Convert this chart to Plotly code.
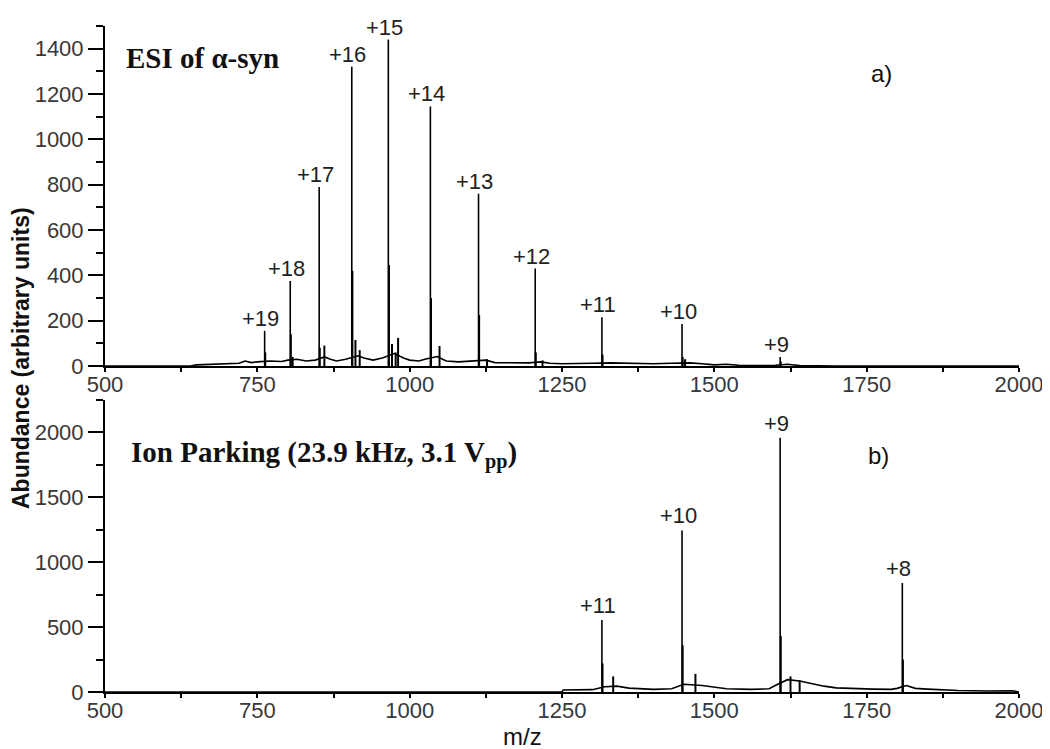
import plotly.graph_objects as go

# ---- data ----
# a) ESI of alpha-synuclein
top_peak_mz = [762, 804, 851.5, 905, 965, 1034, 1113, 1206, 1315.5, 1447, 1608]
top_peak_abund = [155, 375, 790, 1320, 1440, 1145, 760, 430, 215, 185, 40]
top_peak_charge = ["+19", "+18", "+17", "+16", "+15", "+14", "+13", "+12", "+11", "+10", "+9"]

top_minor_mz = [763, 805, 808, 852.5, 860, 906, 911, 918, 966, 971, 977, 981,
                1035, 1049, 1114, 1127, 1207, 1218, 1316.5, 1448, 1452, 1609]
top_minor_abund = [60, 140, 40, 80, 90, 420, 115, 70, 446, 97, 60, 124,
                   300, 88, 225, 30, 60, 25, 50, 40, 30, 20]

top_base_mz = [500, 640, 650, 680, 700, 720, 730, 740, 750, 770, 790, 800, 815, 830, 845,
               860, 870, 880, 895, 915, 925, 940, 955, 975, 990, 1000, 1015, 1025, 1045,
               1060, 1080, 1100, 1125, 1140, 1160, 1180, 1195, 1215, 1230, 1250, 1280,
               1300, 1330, 1360, 1400, 1430, 1460, 1480, 1500, 1520, 1540, 1560, 1600,
               1620, 1640, 1700, 2000]
top_base_abund = [0, 0, 5, 8, 10, 12, 22, 15, 18, 22, 20, 26, 30, 22, 26,
                  40, 30, 22, 30, 45, 35, 26, 35, 55, 35, 26, 22, 30, 42,
                  22, 18, 22, 26, 15, 14, 12, 14, 18, 12, 10, 10,
                  12, 14, 12, 10, 12, 14, 10, 5, 8, 3, 2, 3,
                  8, 2, 0, 0]

# b) Ion parking (23.9 kHz, 3.1 Vpp)
bot_peak_mz = [1315.5, 1447, 1608, 1808.5]
bot_peak_abund = [555, 1245, 1960, 840]
bot_peak_charge = ["+11", "+10", "+9", "+8"]

bot_minor_mz = [1316.5, 1334, 1448, 1469, 1609, 1625, 1640, 1809.5]
bot_minor_abund = [220, 120, 360, 140, 430, 120, 90, 250]

bot_base_mz = [500, 1250, 1252, 1280, 1300, 1320, 1340, 1360, 1400, 1430, 1450, 1480,
               1500, 1520, 1560, 1590, 1600, 1620, 1640, 1660, 1680, 1700, 1720, 1740,
               1760, 1790, 1800, 1815, 1830, 1850, 1870, 1900, 1950, 1990, 2000]
bot_base_abund = [0, 0, 15, 15, 18, 40, 45, 30, 20, 25, 60, 50,
                  35, 25, 20, 25, 50, 95, 85, 65, 45, 32, 28, 25,
                  22, 20, 28, 50, 28, 22, 18, 12, 8, 10, 0]

W, H = 1050, 749


def px(x):
    return x / W


def py(y):
    return 1 - y / H


def sticks(mz, ab):
    xs, ys = [], []
    for m, a in zip(mz, ab):
        xs += [m, m, None]
        ys += [0, a, None]
    return xs, ys


fig = go.Figure()
line = dict(color="black", width=1.6)

# top panel
fig.add_trace(go.Scatter(x=top_base_mz, y=top_base_abund, mode="lines", line=line,
                         xaxis="x", yaxis="y", hoverinfo="skip"))
xs, ys = sticks(top_minor_mz, top_minor_abund)
fig.add_trace(go.Scatter(x=xs, y=ys, mode="lines", line=dict(color="black", width=2),
                         xaxis="x", yaxis="y", hoverinfo="skip"))
xs, ys = sticks(top_peak_mz, top_peak_abund)
fig.add_trace(go.Scatter(x=xs, y=ys, mode="lines", line=line, xaxis="x", yaxis="y"))

# bottom panel
fig.add_trace(go.Scatter(x=bot_base_mz, y=bot_base_abund, mode="lines", line=line,
                         xaxis="x2", yaxis="y2", hoverinfo="skip"))
xs, ys = sticks(bot_minor_mz, bot_minor_abund)
fig.add_trace(go.Scatter(x=xs, y=ys, mode="lines", line=dict(color="black", width=2),
                         xaxis="x2", yaxis="y2", hoverinfo="skip"))
xs, ys = sticks(bot_peak_mz, bot_peak_abund)
fig.add_trace(go.Scatter(x=xs, y=ys, mode="lines", line=line, xaxis="x2", yaxis="y2"))

tickfont = dict(family="Arial, Liberation Sans, sans-serif", size=22, color="#383838")
xdom = [px(97), px(1011)]

xcommon = dict(range=[500, 2000], dtick=250, tick0=500, showgrid=False, zeroline=False,
               showline=True, linewidth=2, linecolor="black", ticks="outside",
               ticklen=4, tickwidth=1.5, tickcolor="black", tickfont=tickfont,
               ticklabelstandoff=-6,
               minor=dict(dtick=125, ticks="outside", ticklen=4, tickcolor="black"),
               domain=xdom, automargin=False)
ycommon = dict(showgrid=False, zeroline=False, showline=True, linewidth=2,
               linecolor="black", ticks="outside", ticklen=15, tickwidth=1.5,
               tickcolor="black", tickfont=tickfont, automargin=False)

fig.update_layout(
    width=W, height=H, autosize=False,
    margin=dict(l=0, r=0, t=0, b=0),
    paper_bgcolor="white", plot_bgcolor="white",
    showlegend=False,
    xaxis=dict(anchor="y", **xcommon),
    yaxis=dict(anchor="x", range=[0, 1500], dtick=200, domain=[py(358), py(18)],
               minor=dict(dtick=100, ticks="outside", ticklen=7, tickcolor="black"),
               **ycommon),
    xaxis2=dict(anchor="y2", **xcommon),
    yaxis2=dict(anchor="x2", range=[0, 2250], dtick=500, domain=[py(684), py(392)],
                minor=dict(dtick=250, ticks="outside", ticklen=7, tickcolor="black"),
                **ycommon),
)

label_font = dict(family="Arial, Liberation Sans, sans-serif", size=22, color="#222")
for m, a, t in zip(top_peak_mz, top_peak_abund, top_peak_charge):
    fig.add_annotation(x=m, y=a, xref="x", yref="y", text=t, showarrow=False,
                       xanchor="center", yanchor="bottom", xshift=-4, yshift=-2,
                       font=label_font)
for m, a, t in zip(bot_peak_mz, bot_peak_abund, bot_peak_charge):
    fig.add_annotation(x=m, y=a, xref="x2", yref="y2", text=t, showarrow=False,
                       xanchor="center", yanchor="bottom", xshift=-4, yshift=0,
                       font=label_font)

serif = dict(family="Times New Roman, Liberation Serif, serif", size=29, color="#111")
fig.add_annotation(x=px(116), y=py(50), xref="paper", yref="paper",
                   text="<b>ESI of α-syn</b>", showarrow=False,
                   xanchor="left", yanchor="middle", font=serif)
fig.add_annotation(x=px(121), y=py(446), xref="paper", yref="paper",
                   text="<b>Ion Parking (23.9 kHz, 3.1 V<sub>pp</sub>)</b>", showarrow=False,
                   xanchor="left", yanchor="middle", font=serif)

sans = dict(family="Arial, Liberation Sans, sans-serif", size=24, color="#111")
fig.add_annotation(x=px(873), y=py(66), xref="paper", yref="paper", text="a)",
                   showarrow=False, xanchor="center", yanchor="middle", font=sans)
fig.add_annotation(x=px(870), y=py(447), xref="paper", yref="paper", text="b)",
                   showarrow=False, xanchor="center", yanchor="middle", font=sans)
fig.add_annotation(x=px(514), y=py(728), xref="paper", yref="paper", text="m/z",
                   showarrow=False, xanchor="center", yanchor="middle", font=sans)
fig.add_annotation(x=px(13), y=py(350), xref="paper", yref="paper",
                   text="<b>Abundance (arbitrary units)</b>", textangle=-90,
                   showarrow=False, xanchor="center", yanchor="middle",
                   font=dict(family="Arial, Liberation Sans, sans-serif", size=23, color="#111"))

fig.write_html("out.html")
